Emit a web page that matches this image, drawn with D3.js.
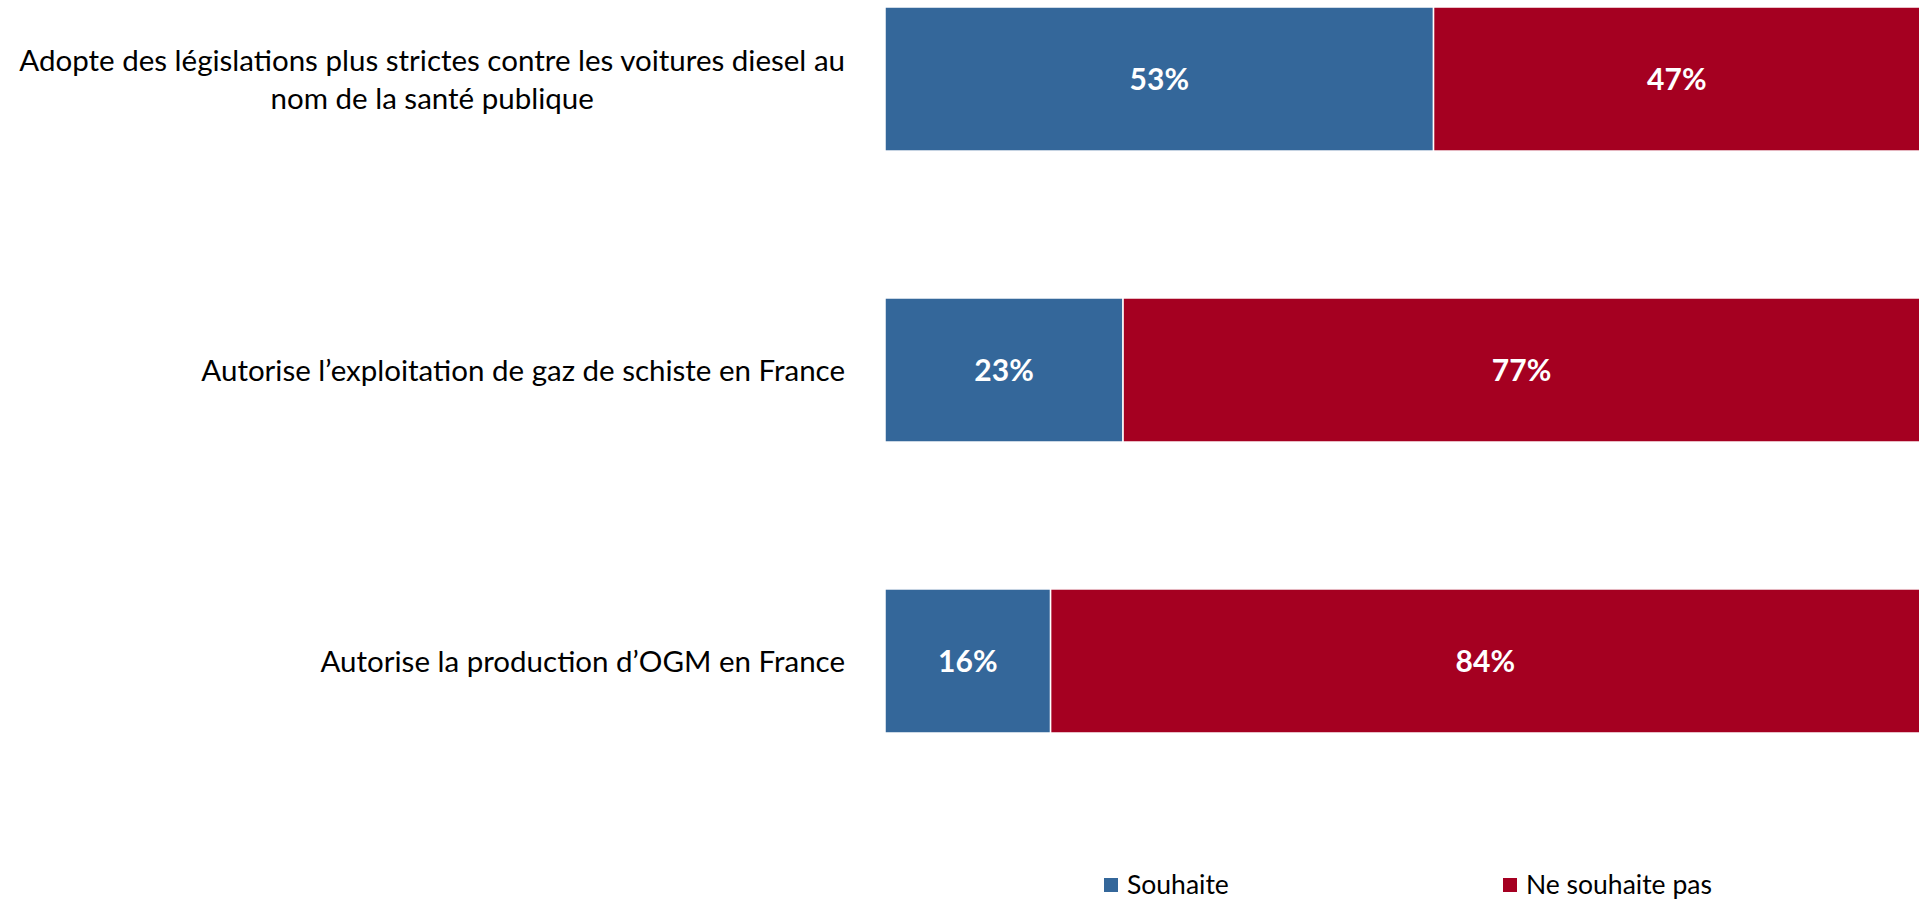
<!DOCTYPE html>
<html>
<head>
<meta charset="utf-8">
<script src="https://cdn.jsdelivr.net/npm/d3@7"></script>
<style>
  body { margin: 0; background: #fff; }
  text { font-family: Lato, "Open Sans", sans-serif; }
</style>
</head>
<body>
<div id="chart"></div>
<script>
// categories (one entry per bar, each split in its display lines)
const categories = [
  ["Adopte des législations plus strictes contre les voitures diesel au", "nom de la santé publique"],
  ["Autorise l\u2019exploitation de gaz de schiste en France"],
  ["Autorise la production d\u2019OGM en France"]
];
const souhaite = [53, 23, 16];
const neSouhaitePas = [47, 77, 84];
const seriesNames = ["Souhaite", "Ne souhaite pas"];
const seriesColors = ["#34679A", "#A50021"];

(function() {
  var width = 1919,
      height = 901;

  const svg = d3.select("#chart").append("svg")
                .attr("width", width)
                .attr("height", height);

  // build rows for the stack
  const rows = categories.map((c, i) => ({
    idx: i,
    "Souhaite": souhaite[i],
    "Ne souhaite pas": neSouhaitePas[i]
  }));
  const stacked = d3.stack().keys(seriesNames)(rows);

  var x = d3.scaleLinear().domain([0, 100]).range([885, 1920]);
  var y = d3.scaleBand()
            .domain(d3.range(categories.length))
            .range([7, 733])
            .paddingInner(0.505)
            .paddingOuter(0);
  var color = d3.scaleOrdinal().domain(seriesNames).range(seriesColors);

  // bars
  const layer = svg.append("g")
    .selectAll("g")
    .data(stacked)
    .join("g")
    .attr("fill", d => color(d.key));

  layer.selectAll("rect")
    .data(d => d)
    .join("rect")
    .attr("x", d => x(d[0]))
    .attr("y", d => y(d.data.idx))
    .attr("width", d => x(d[1]) - x(d[0]))
    .attr("height", y.bandwidth())
    .attr("stroke", "#fff")
    .attr("stroke-width", 1.5);

  // value labels
  layer.selectAll("text")
    .data(d => d)
    .join("text")
    .attr("x", d => (x(d[0]) + x(d[1])) / 2)
    .attr("y", d => y(d.data.idx) + y.bandwidth() / 2)
    .attr("dy", "0.36em")
    .attr("text-anchor", "middle")
    .attr("fill", "#fff")
    .attr("font-weight", "bold")
    .attr("font-size", 30)
    .text(d => (d[1] - d[0]) + "%");

  // category labels, block right-aligned at 845, lines centred inside it
  const lineH = 38;
  const labels = svg.append("g")
    .selectAll("text")
    .data(categories)
    .join("text")
    .attr("font-size", 29.5)
    .attr("fill", "#000")
    .attr("text-anchor", "middle");

  labels.each(function(lines, i) {
    const t = d3.select(this);
    const cy = y(i) + y.bandwidth() / 2;
    lines.forEach((ln, k) => {
      t.append("tspan")
        .attr("y", cy + (k - (lines.length - 1) / 2) * lineH)
        .attr("dy", "0.36em")
        .text(ln);
    });
    let maxW = 0;
    t.selectAll("tspan").each(function() {
      maxW = Math.max(maxW, this.getComputedTextLength());
    });
    t.selectAll("tspan").attr("x", 845 - maxW / 2);
  });

  // legend
  const legendX = [1104, 1503];
  const legend = svg.append("g")
    .selectAll("g")
    .data(seriesNames)
    .join("g")
    .attr("transform", (d, i) => `translate(${legendX[i]},878)`);

  legend.append("rect")
    .attr("width", 14)
    .attr("height", 14)
    .attr("fill", d => color(d));

  legend.append("text")
    .attr("x", 23)
    .attr("y", 16)
    .attr("font-size", 26.5)
    .attr("fill", "#000")
    .text(d => d);
})();
</script>
</body>
</html>
